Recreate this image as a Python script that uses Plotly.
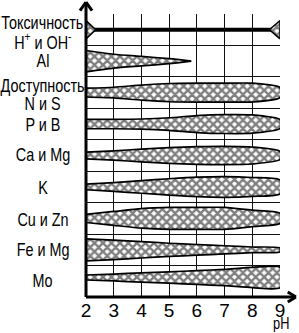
import plotly.graph_objects as go

# ---- data ----
ph_ticks = [2, 3, 4, 5, 6, 7, 8, 9]
tick_labels = ["2", "3", "4", "5", "6", "7", "8", "9"]

row_labels = ["Токсичность", "H<sup>+</sup> и OH<sup>-</sup>", "Al", "Доступность", "N и S",
              "P и B", "Ca и Mg", "K", "Cu и Zn", "Fe и Mg", "Mo"]
row_label_pos = [-0.21, 0.39, 1.0, 1.79, 2.37, 3.03, 3.98, 5.03, 6.05, 7.0, 7.99]

# toxicity: line with end wedges
tox_row = 0
tox_left_ph = [2, 2, 2.35]
tox_right_ph = [9, 9, 8.62]
tox_half = [0.29, -0.29, 0]

# availability bands (half-width in row units)
band_names = ["Al", "N и S", "P и B", "Ca и Mg", "K", "Cu и Zn", "Fe и Mg", "Mo"]
band_rows = [1, 2, 3, 4, 5, 6, 7, 7.88]
al_ph = [2, 3, 4, 5, 5.8]
al_w = [0.34, 0.22, 0.15, 0.08, 0.0]
ns_ph = [2, 3, 4, 5, 6, 7, 8, 9]
ns_w = [0.14, 0.17, 0.24, 0.29, 0.30, 0.30, 0.30, 0.16]
pb_w = [0.15, 0.15, 0.16, 0.20, 0.27, 0.30, 0.29, 0.14]
ca_w = [0.11, 0.15, 0.20, 0.25, 0.28, 0.29, 0.27, 0.13]
k_w = [0.09, 0.14, 0.20, 0.26, 0.31, 0.33, 0.30, 0.22]
cu_w = [0.13, 0.22, 0.31, 0.35, 0.35, 0.35, 0.26, 0.16]
fe_w = [0.35, 0.31, 0.26, 0.21, 0.17, 0.13, 0.09, 0.06]
mo_w = [0.08, 0.11, 0.15, 0.18, 0.22, 0.26, 0.32, 0.33]

band_ph = [al_ph, ns_ph, ns_ph, ns_ph, ns_ph, ns_ph, ns_ph, ns_ph]
band_w = [al_w, ns_w, pb_w, ca_w, k_w, cu_w, fe_w, mo_w]

FONT = "Liberation Sans, Arial, sans-serif"
pattern = dict(shape="x", fgcolor="black", bgcolor="white", size=6, solidity=0.65)

fig = go.Figure()

# toxicity thick line
fig.add_trace(go.Scatter(x=[ph_ticks[0], ph_ticks[-1]], y=[tox_row, tox_row], mode="lines",
                         line=dict(color="black", width=4), hoverinfo="skip"))
for xs in (tox_left_ph, tox_right_ph):
    fig.add_trace(go.Scatter(x=xs + [xs[0]], y=[tox_row + h for h in tox_half] + [tox_row + tox_half[0]],
                             mode="lines", fill="toself", fillpattern=pattern,
                             line=dict(color="black", width=1.5), hoverinfo="skip"))

for name, row, xs, ws in zip(band_names, band_rows, band_ph, band_w):
    top = [row - w for w in ws]
    bot = [row + w for w in ws]
    fig.add_trace(go.Scatter(x=xs + xs[::-1], y=top + bot[::-1], mode="lines", name=name,
                             fill="toself", fillpattern=pattern,
                             line=dict(color="black", width=1.7, shape="spline", smoothing=0.6),
                             hoverinfo="skip"))

for txt, yv in zip(row_labels, row_label_pos):
    fig.add_annotation(x=-0.222, xref="paper", y=yv, yref="y", text=txt, showarrow=False,
                       xanchor="center", yanchor="middle",
                       font=dict(family=FONT, size=18, color="black"))

fig.add_annotation(x=1.005, xref="paper", y=-0.093, yref="paper", text="pH", showarrow=False,
                   xanchor="center", yanchor="middle", font=dict(family=FONT, size=16, color="black"))

# axes with arrows
ax = dict(type="line", xref="paper", yref="paper", line=dict(color="black", width=3))
fig.add_shape(**ax, x0=0, y0=0, x1=0, y1=1.04)
fig.add_shape(**ax, x0=0, y0=0, x1=1.08, y1=0)
fig.add_shape(**ax, x0=-0.031, y0=1.012, x1=0, y1=1.042)
fig.add_shape(**ax, x0=0.031, y0=1.012, x1=0, y1=1.042)
fig.add_shape(**ax, x0=1.04, y0=0.018, x1=1.082, y1=0)
fig.add_shape(**ax, x0=1.04, y0=-0.018, x1=1.082, y1=0)

fig.update_layout(
    width=299, height=333, margin=dict(l=86, r=19, t=14, b=36),
    paper_bgcolor="white", plot_bgcolor="white", showlegend=False,
    xaxis=dict(range=[2, 9], tickvals=ph_ticks, ticktext=tick_labels, showgrid=True,
               gridcolor="#111", gridwidth=1.3, zeroline=False, showline=False, ticks="",
               tickfont=dict(family=FONT, size=19, color="black"), fixedrange=True),
    yaxis=dict(range=[8.5, -0.5], tickvals=[i - 0.5 for i in range(10)], showticklabels=False,
               showgrid=True, gridcolor="#111", gridwidth=1.3, zeroline=False, showline=False,
               ticks="", fixedrange=True),
)

# condensed look for the text (Arial Narrow style)
post = """
var gd = document.getElementById('{plot_id}');
function squeeze(){
  gd.querySelectorAll('.annotation-text').forEach(function(t){
    t.style.transformBox = 'fill-box';
    t.style.transformOrigin = 'center';
    t.style.transform = 'scaleX(0.8)';
  });
}
squeeze();
gd.on('plotly_afterplot', squeeze);
"""

fig.write_html("out.html", post_script=post)
